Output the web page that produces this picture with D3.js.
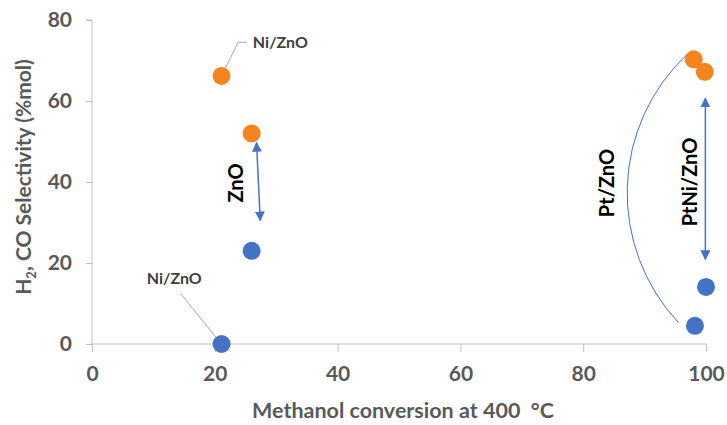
<!DOCTYPE html>
<html><head><meta charset="utf-8">
<script src="https://cdn.jsdelivr.net/npm/d3@7"></script>
<style>body{margin:0;background:#fff}svg{display:block}text{font-family:Lato,"Open Sans",sans-serif;white-space:pre}</style>
</head><body><svg id="c" width="727" height="425"></svg>
<script>
const xTicks = [0, 20, 40, 60, 80, 100];
const yTicks = [0, 20, 40, 60, 80];
const h2Conv = [21.1, 26.0, 98.0, 99.8];
const h2Sel = [66.2, 52.0, 70.3, 67.2];
const coConv = [21.1, 26.0, 98.2, 100];
const coSel = [0, 23.0, 4.5, 14.1];
const labels = ["Ni/ZnO", "Ni/ZnO", "ZnO", "Pt/ZnO", "PtNi/ZnO"];

const svg = d3.select("#c");
const x = d3.scaleLinear().domain([0, 100]).range([92, 706]);
const y = d3.scaleLinear().domain([0, 80]).range([344, 20]);
const grey = "#595959", axisCol = "#bfbfbf";

// axes
const xa = svg.append("g").attr("transform", "translate(0,344)")
  .call(d3.axisBottom(x).tickValues(xTicks).tickSize(8).tickPadding(14));
const ya = svg.append("g").attr("transform", "translate(92,0)")
  .call(d3.axisLeft(y).tickValues(yTicks).tickSize(6).tickPadding(14));
[xa, ya].forEach(a => {
  a.selectAll("path,line").attr("stroke", axisCol).attr("stroke-width", 1);
  a.selectAll("text").attr("fill", grey).attr("font-size", 21).attr("font-weight", "bold");
});
ya.select(".domain").attr("d", "M0,344V20H-6");
xa.select(".domain").attr("d", "M92,0H706");

svg.append("text").attr("x", 403).attr("y", 418).attr("text-anchor", "middle")
  .attr("fill", grey).attr("font-size", 21.5).attr("font-weight", "bold")
  .text("Methanol conversion at 400  \u00B0C");
const yt = svg.append("text").attr("transform", "translate(31,177) rotate(-90)")
  .attr("text-anchor", "middle").attr("fill", grey).attr("font-size", 21).attr("font-weight", "bold");
yt.append("tspan").text("H");
yt.append("tspan").attr("font-size", 13).attr("dy", 5).text("2");
yt.append("tspan").attr("dy", -5).text(", CO Selectivity (%mol)");

// leader lines
const lead = "#a6a6a6";
svg.append("path").attr("fill", "none").attr("stroke", lead)
  .attr("d", `M${x(h2Conv[0])},${y(h2Sel[0])}L${x(23.8)},${y(74.5)}H${x(25.2)}`);
svg.append("path").attr("fill", "none").attr("stroke", lead)
  .attr("d", `M${x(coConv[0])},${y(coSel[0])}L${x(14.4)},${y(12.5)}`);
svg.append("text").attr("x", x(26.2)).attr("y", y(74.5)).attr("dy", "0.35em")
  .attr("fill", "#404040").attr("font-size", 16).attr("font-weight", "bold").text(labels[0]);
svg.append("text").attr("x", x(13.4)).attr("y", y(16.1)).attr("dy", "0.35em").attr("text-anchor", "middle")
  .attr("fill", "#404040").attr("font-size", 16).attr("font-weight", "bold").text(labels[1]);

// arrows
const blue = "#4472c4", orange = "#f5841f";
const defs = svg.append("defs");
defs.append("marker").attr("id", "ah").attr("viewBox", "0 0 10 10").attr("refX", 9).attr("refY", 5)
  .attr("markerWidth", 10).attr("markerHeight", 10).attr("markerUnits", "userSpaceOnUse")
  .attr("orient", "auto-start-reverse")
  .append("path").attr("d", "M0,0L10,5L0,10Z").attr("fill", blue);
svg.append("line").attr("x1", x(26.8)).attr("y1", y(49.7)).attr("x2", x(27.4)).attr("y2", y(30.5))
  .attr("stroke", blue).attr("stroke-width", 1.5)
  .attr("marker-start", "url(#ah)").attr("marker-end", "url(#ah)");
svg.append("line").attr("x1", x(99.9)).attr("y1", y(60.7)).attr("x2", x(99.9)).attr("y2", y(20.9))
  .attr("stroke", blue).attr("stroke-width", 1.5)
  .attr("marker-start", "url(#ah)").attr("marker-end", "url(#ah)");
// arc (circular)
const ax0 = x(96.9), ay0 = y(71.5), ax1 = x(95.5), ay1 = y(5.3);
svg.append("path").attr("fill", "none").attr("stroke", blue).attr("stroke-width", 1)
  .attr("d", `M${ax0},${ay0}A190,190 0 0 0 ${ax1},${ay1}`);

// rotated labels
[[labels[2], 236, 183, 20], [labels[3], 607, 183, 20], [labels[4], 690, 182, 20]].forEach(([t, cx, cy, fs]) => {
  svg.append("text").attr("transform", `translate(${cx},${cy}) rotate(-90)`).attr("text-anchor", "middle")
    .attr("dy", "0.35em").attr("fill", "#000").attr("font-size", fs).attr("font-weight", "bold").text(t);
});

// points
svg.append("g").selectAll("circle").data(coConv.map((c, i) => [c, coSel[i]])).join("circle")
  .attr("cx", d => x(d[0])).attr("cy", d => y(d[1])).attr("r", 9).attr("fill", blue);
svg.append("g").selectAll("circle").data(h2Conv.map((c, i) => [c, h2Sel[i]])).join("circle")
  .attr("cx", d => x(d[0])).attr("cy", d => y(d[1])).attr("r", 9).attr("fill", orange);
</script></body></html>
